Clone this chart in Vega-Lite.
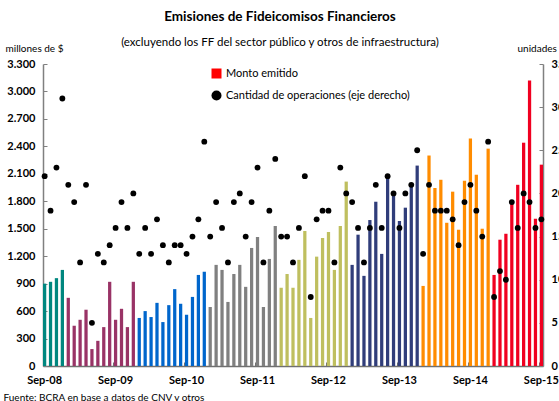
{
  "$schema": "https://vega.github.io/schema/vega-lite/v6.json",
  "width": 500,
  "height": 302,
  "autosize": "none",
  "padding": {"left": 43, "top": 64, "right": 16, "bottom": 35},
  "background": "white",
  "config": {"view": {"stroke": null}},
  "title": {
    "text": "Emisiones de Fideicomisos Financieros",
    "subtitle": "(excluyendo los FF del sector público y otros de infraestructura)",
    "anchor": "middle",
    "frame": "group",
    "dx": -13,
    "font": "Lato",
    "fontSize": 13.5,
    "fontWeight": "bold",
    "color": "black",
    "subtitleFont": "Lato",
    "subtitleFontSize": 11.5,
    "subtitleColor": "black",
    "subtitlePadding": 13,
    "offset": -5
  },
  "data": {"values": [
    {"mes": "2008-09", "anio": "2008", "monto": 900, "operaciones": 22},
    {"mes": "2008-10", "anio": "2008", "monto": 920, "operaciones": 18},
    {"mes": "2008-11", "anio": "2008", "monto": 960, "operaciones": 23},
    {"mes": "2008-12", "anio": "2008", "monto": 1050, "operaciones": 31},
    {"mes": "2009-01", "anio": "2009", "monto": 745, "operaciones": 21},
    {"mes": "2009-02", "anio": "2009", "monto": 440, "operaciones": 19},
    {"mes": "2009-03", "anio": "2009", "monto": 505, "operaciones": 12},
    {"mes": "2009-04", "anio": "2009", "monto": 615, "operaciones": 21},
    {"mes": "2009-05", "anio": "2009", "monto": 185, "operaciones": 5},
    {"mes": "2009-06", "anio": "2009", "monto": 275, "operaciones": 13},
    {"mes": "2009-07", "anio": "2009", "monto": 425, "operaciones": 12},
    {"mes": "2009-08", "anio": "2009", "monto": 920, "operaciones": 14},
    {"mes": "2009-09", "anio": "2009", "monto": 505, "operaciones": 16},
    {"mes": "2009-10", "anio": "2009", "monto": 625, "operaciones": 19},
    {"mes": "2009-11", "anio": "2009", "monto": 425, "operaciones": 16},
    {"mes": "2009-12", "anio": "2009", "monto": 920, "operaciones": 20},
    {"mes": "2010-01", "anio": "2010", "monto": 525, "operaciones": 13},
    {"mes": "2010-02", "anio": "2010", "monto": 600, "operaciones": 16},
    {"mes": "2010-03", "anio": "2010", "monto": 535, "operaciones": 13},
    {"mes": "2010-04", "anio": "2010", "monto": 690, "operaciones": 17},
    {"mes": "2010-05", "anio": "2010", "monto": 480, "operaciones": 14},
    {"mes": "2010-06", "anio": "2010", "monto": 665, "operaciones": 12},
    {"mes": "2010-07", "anio": "2010", "monto": 840, "operaciones": 14},
    {"mes": "2010-08", "anio": "2010", "monto": 680, "operaciones": 14},
    {"mes": "2010-09", "anio": "2010", "monto": 560, "operaciones": 13},
    {"mes": "2010-10", "anio": "2010", "monto": 755, "operaciones": 15},
    {"mes": "2010-11", "anio": "2010", "monto": 995, "operaciones": 17},
    {"mes": "2010-12", "anio": "2010", "monto": 1030, "operaciones": 26},
    {"mes": "2011-01", "anio": "2011", "monto": 645, "operaciones": 15},
    {"mes": "2011-02", "anio": "2011", "monto": 1105, "operaciones": 19},
    {"mes": "2011-03", "anio": "2011", "monto": 1050, "operaciones": 16},
    {"mes": "2011-04", "anio": "2011", "monto": 700, "operaciones": 12},
    {"mes": "2011-05", "anio": "2011", "monto": 1005, "operaciones": 19},
    {"mes": "2011-06", "anio": "2011", "monto": 1105, "operaciones": 20},
    {"mes": "2011-07", "anio": "2011", "monto": 865, "operaciones": 15},
    {"mes": "2011-08", "anio": "2011", "monto": 1290, "operaciones": 19},
    {"mes": "2011-09", "anio": "2011", "monto": 1410, "operaciones": 23},
    {"mes": "2011-10", "anio": "2011", "monto": 645, "operaciones": 12},
    {"mes": "2011-11", "anio": "2011", "monto": 1170, "operaciones": 18},
    {"mes": "2011-12", "anio": "2011", "monto": 1530, "operaciones": 24},
    {"mes": "2012-01", "anio": "2012", "monto": 855, "operaciones": 15},
    {"mes": "2012-02", "anio": "2012", "monto": 1005, "operaciones": 15},
    {"mes": "2012-03", "anio": "2012", "monto": 855, "operaciones": 12},
    {"mes": "2012-04", "anio": "2012", "monto": 1160, "operaciones": 16},
    {"mes": "2012-05", "anio": "2012", "monto": 1475, "operaciones": 22},
    {"mes": "2012-06", "anio": "2012", "monto": 525, "operaciones": 8},
    {"mes": "2012-07", "anio": "2012", "monto": 1195, "operaciones": 17},
    {"mes": "2012-08", "anio": "2012", "monto": 1400, "operaciones": 18},
    {"mes": "2012-09", "anio": "2012", "monto": 1465, "operaciones": 18},
    {"mes": "2012-10", "anio": "2012", "monto": 1050, "operaciones": 12},
    {"mes": "2012-11", "anio": "2012", "monto": 1530, "operaciones": 23},
    {"mes": "2012-12", "anio": "2012", "monto": 2015, "operaciones": 20},
    {"mes": "2013-01", "anio": "2013", "monto": 1105, "operaciones": 19},
    {"mes": "2013-02", "anio": "2013", "monto": 1435, "operaciones": 16},
    {"mes": "2013-03", "anio": "2013", "monto": 985, "operaciones": 12},
    {"mes": "2013-04", "anio": "2013", "monto": 1595, "operaciones": 16},
    {"mes": "2013-05", "anio": "2013", "monto": 1795, "operaciones": 21},
    {"mes": "2013-06", "anio": "2013", "monto": 1225, "operaciones": 16},
    {"mes": "2013-07", "anio": "2013", "monto": 2060, "operaciones": 22},
    {"mes": "2013-08", "anio": "2013", "monto": 1860, "operaciones": 20},
    {"mes": "2013-09", "anio": "2013", "monto": 1585, "operaciones": 16},
    {"mes": "2013-10", "anio": "2013", "monto": 1730, "operaciones": 20},
    {"mes": "2013-11", "anio": "2013", "monto": 1960, "operaciones": 21},
    {"mes": "2013-12", "anio": "2013", "monto": 2190, "operaciones": 25},
    {"mes": "2014-01", "anio": "2014", "monto": 875, "operaciones": 13},
    {"mes": "2014-02", "anio": "2014", "monto": 2300, "operaciones": 21},
    {"mes": "2014-03", "anio": "2014", "monto": 1945, "operaciones": 18},
    {"mes": "2014-04", "anio": "2014", "monto": 2035, "operaciones": 18},
    {"mes": "2014-05", "anio": "2014", "monto": 1565, "operaciones": 18},
    {"mes": "2014-06", "anio": "2014", "monto": 1905, "operaciones": 17},
    {"mes": "2014-07", "anio": "2014", "monto": 1490, "operaciones": 14},
    {"mes": "2014-08", "anio": "2014", "monto": 2025, "operaciones": 19},
    {"mes": "2014-09", "anio": "2014", "monto": 2485, "operaciones": 21},
    {"mes": "2014-10", "anio": "2014", "monto": 2090, "operaciones": 18},
    {"mes": "2014-11", "anio": "2014", "monto": 1500, "operaciones": 15},
    {"mes": "2014-12", "anio": "2014", "monto": 2375, "operaciones": 26},
    {"mes": "2015-01", "anio": "2015", "monto": 995, "operaciones": 8},
    {"mes": "2015-02", "anio": "2015", "monto": 1380, "operaciones": 11},
    {"mes": "2015-03", "anio": "2015", "monto": 1445, "operaciones": 10},
    {"mes": "2015-04", "anio": "2015", "monto": 1785, "operaciones": 19},
    {"mes": "2015-05", "anio": "2015", "monto": 1980, "operaciones": 16},
    {"mes": "2015-06", "anio": "2015", "monto": 2440, "operaciones": 20},
    {"mes": "2015-07", "anio": "2015", "monto": 3120, "operaciones": 19},
    {"mes": "2015-08", "anio": "2015", "monto": 1610, "operaciones": 16},
    {"mes": "2015-09", "anio": "2015", "monto": 2200, "operaciones": 17}
  ]},
  "encoding": {
    "x": {
      "field": "mes",
      "type": "ordinal",
      "scale": {"paddingInner": 0.45, "paddingOuter": 0},
      "axis": {
        "title": "Fuente: BCRA en base a datos de CNV y otros",
        "titleAngle": 0,
        "titleX": -40,
        "titleY": 31,
        "titleAlign": "left",
        "titleBaseline": "middle",
        "titleFont": "Lato",
        "titleFontSize": 10,
        "titleFontWeight": "normal",
        "titleColor": "black",
        "values": ["2008-09", "2009-09", "2010-09", "2011-09", "2012-09", "2013-09", "2014-09", "2015-09"],
        "labelExpr": "'Sep-' + substring(datum.value, 2, 4)",
        "bandPosition": 0,
        "labelAngle": 0,
        "labelFont": "Lato",
        "labelFontWeight": "bold",
        "labelFontSize": 11,
        "labelColor": "black",
        "labelPadding": 12,
        "domainColor": "#707070",
        "domainWidth": 1.5,
        "tickColor": "#707070",
        "tickSize": -4,
        "grid": false
      }
    }
  },
  "layer": [
    {
      "mark": {"type": "bar", "strokeWidth": 0},
      "encoding": {
        "y": {
          "field": "monto",
          "type": "quantitative",
          "scale": {"domain": [0, 3300], "nice": false},
          "axis": {
            "orient": "left",
            "values": [0, 300, 600, 900, 1200, 1500, 1800, 2100, 2400, 2700, 3000, 3300],
            "labelExpr": "replace(format(datum.value, ','), ',', '.')",
            "title": "millones de $",
            "titleAngle": 0,
            "titleX": -38,
            "titleY": -16,
            "titleAlign": "left",
            "titleBaseline": "middle",
            "titleFont": "Lato",
            "titleFontSize": 10,
            "titleFontWeight": "normal",
            "titleColor": "black",
            "labelFont": "Lato",
            "labelFontWeight": "bold",
            "labelFontSize": 11,
            "labelColor": "black",
            "labelPadding": 12,
            "domainColor": "#808080",
            "domainWidth": 1.5,
            "tickColor": "#808080",
            "tickSize": -4,
            "grid": false
          }
        },
        "fill": {
          "field": "anio",
          "type": "nominal",
          "scale": {
            "domain": ["2008", "2009", "2010", "2011", "2012", "2013", "2014", "2015"],
            "range": ["#00877F", "#993366", "#0066CC", "#808080", "#BFBF5F", "#303D7A", "#FF8C00", "#F00020"]
          },
          "legend": null
        }
      }
    },
    {
      "mark": {"type": "point", "filled": true, "size": 34, "opacity": 1},
      "encoding": {
        "y": {
          "field": "operaciones",
          "type": "quantitative",
          "scale": {"domain": [0, 35], "nice": false},
          "axis": {
            "orient": "right",
            "values": [0, 5, 10, 15, 20, 25, 30, 35],
            "title": "unidades",
            "titleAngle": 0,
            "titleX": -26,
            "titleY": -16,
            "titleAlign": "left",
            "titleBaseline": "middle",
            "titleFont": "Lato",
            "titleFontSize": 10,
            "titleFontWeight": "normal",
            "titleColor": "black",
            "labelFont": "Lato",
            "labelFontWeight": "bold",
            "labelFontSize": 11,
            "labelColor": "black",
            "labelPadding": 12,
            "domainColor": "#808080",
            "domainWidth": 1.5,
            "tickColor": "#808080",
            "tickSize": -4,
            "grid": false
          }
        },
        "color": {
          "datum": "Cantidad de operaciones (eje derecho)",
          "type": "nominal",
          "scale": {
            "domain": ["Monto emitido", "Cantidad de operaciones (eje derecho)"],
            "range": ["#FF0000", "#000000"]
          },
          "legend": {
            "title": null,
            "orient": "none",
            "legendX": 168,
            "legendY": 4,
            "labelFont": "Lato",
            "labelFontSize": 11,
            "labelColor": "black",
            "labelLimit": 0,
            "rowPadding": 10
          }
        },
        "shape": {
          "datum": "Cantidad de operaciones (eje derecho)",
          "type": "nominal",
          "scale": {
            "domain": ["Monto emitido", "Cantidad de operaciones (eje derecho)"],
            "range": ["square", "circle"]
          },
          "legend": {
            "title": null,
            "orient": "none",
            "legendX": 168,
            "legendY": 4,
            "labelFont": "Lato",
            "labelFontSize": 11,
            "labelColor": "black",
            "labelLimit": 0,
            "rowPadding": 10,
            "symbolStrokeWidth": 0,
            "encode": {
              "symbols": {
                "update": {
                  "size": {"signal": "datum.value === 'Monto emitido' ? 85 : 30"},
                  "strokeWidth": {"value": 0}
                }
              }
            }
          }
        }
      }
    }
  ],
  "resolve": {"scale": {"y": "independent"}}
}
